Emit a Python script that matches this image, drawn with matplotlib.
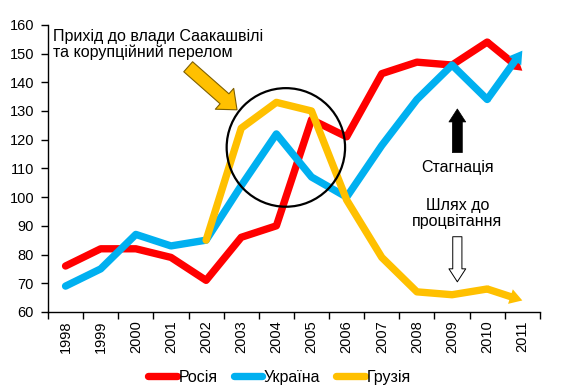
import matplotlib.pyplot as plt
import numpy as np
from matplotlib.patches import Ellipse

plt.rcParams['font.family'] = ['Liberation Sans', 'DejaVu Sans']

roky = ['1998', '1999', '2000', '2001', '2002', '2003', '2004',
        '2005', '2006', '2007', '2008', '2009', '2010', '2011']
rosiya = [76, 82, 82, 79, 71, 86, 90, 127, 121, 143, 147, 146, 154, 144]
ukraina = [69, 75, 87, 83, 85, 104, 122, 107, 100, 118, 134, 146, 134, 151]
gruziya = [np.nan, np.nan, np.nan, np.nan, 85, 124, 133, 130, 99, 79, 67, 66, 68, 64]

kolory = {'Росія': '#FF0000', 'Україна': '#00B0F0', 'Грузія': '#FFC000'}

fig = plt.figure(figsize=(5.74, 3.88), dpi=100)
ax = fig.add_axes([0.0836, 0.196, 0.857, 0.740])

x = np.arange(len(roky))
for nazva, dani in [('Росія', rosiya), ('Україна', ukraina), ('Грузія', gruziya)]:
    c = kolory[nazva]
    ax.plot(x[:-1], dani[:-1], color=c, lw=5.3, solid_capstyle='round',
            solid_joinstyle='round', label=nazva)
    # last segment ends with an arrowhead
    ax.annotate('', xy=(x[-1], dani[-1]), xytext=(x[-2], dani[-2]),
                arrowprops=dict(arrowstyle='simple,head_width=1.1,head_length=0.9,tail_width=0.53',
                                mutation_scale=10, fc=c, ec='none', lw=0,
                                shrinkA=0, shrinkB=0))

ax.set_xlim(-0.5, len(roky) - 0.5)
ax.set_ylim(60, 160)
ax.set_yticks(np.arange(60, 161, 10))
ax.set_xticks(np.arange(-0.5, len(roky), 1.0))
ax.set_xticklabels([])
ax.set_xticks(x, minor=True)
ax.set_xticklabels(roky, minor=True, rotation=90)
ax.tick_params(axis='x', which='minor', length=0, pad=6, labelsize=10.5)
ax.tick_params(axis='x', which='major', length=5, direction='out', width=1)
ax.tick_params(axis='y', length=5, direction='out', width=1, labelsize=10.5, pad=5)
for s in ['top', 'right']:
    ax.spines[s].set_visible(False)
for s in ['left', 'bottom']:
    ax.spines[s].set_linewidth(1)

# circle round 2003-2005
ax.add_patch(Ellipse((6.27, 117.3), 3.37, 41.3, fill=False, ec='black', lw=1.6, zorder=5))

# yellow block arrow
ax.annotate('', xy=(4.88, 130.4), xytext=(3.49, 145.4),
            arrowprops=dict(arrowstyle='simple,head_width=1.25,head_length=0.75,tail_width=0.6',
                            mutation_scale=16, fc='#FFC000', ec='#7F6000', lw=0.8,
                            shrinkA=0, shrinkB=0))
ax.text(-0.35, 158.5, 'Прихід до влади Саакашвілі\nта корупційний перелом',
        ha='left', va='top', fontsize=11.5, linespacing=1.05)

# stagnation arrow
ax.annotate('', xy=(11.15, 130.7), xytext=(11.15, 115.5),
            arrowprops=dict(arrowstyle='simple,head_width=1.1,head_length=0.85,tail_width=0.65',
                            mutation_scale=11, fc='black', ec='black', lw=0.5,
                            shrinkA=0, shrinkB=0))
ax.text(11.15, 110.2, 'Стагнація', ha='center', va='center', fontsize=11.5)

# path to prosperity arrow
ax.text(11.15, 94.2, 'Шлях до\nпроцвітання', ha='center', va='center', fontsize=11.5,
        linespacing=1.05)
ax.annotate('', xy=(11.15, 70.5), xytext=(11.15, 86.2),
            arrowprops=dict(arrowstyle='simple,head_width=1.1,head_length=0.85,tail_width=0.6',
                            mutation_scale=11, fc='white', ec='black', lw=0.7,
                            shrinkA=0, shrinkB=0))

ax.legend(loc='center', bbox_to_anchor=(0.487, 0.028), bbox_transform=fig.transFigure,
          ncol=3, frameon=False, fontsize=11.5, handlelength=1.8, handletextpad=0.1,
          columnspacing=1.0, borderpad=0, borderaxespad=0)

fig.savefig('out.png', dpi=100)
